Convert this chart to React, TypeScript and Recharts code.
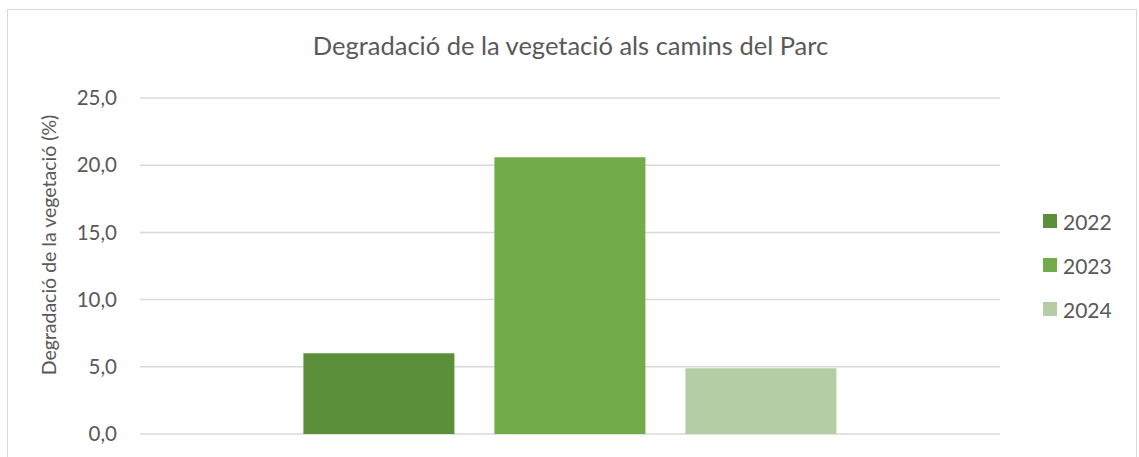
import { BarChart, Bar, XAxis, YAxis, CartesianGrid, Label } from "recharts";

const categories = ["Parc"];
const series2022 = [6.0];
const series2023 = [20.6];
const series2024 = [4.9];
const yTicks = [0, 5, 10, 15, 20, 25];

const seriesInfo = [
  { key: "2022", color: "#5b8f3a" },
  { key: "2023", color: "#72ac4a" },
  { key: "2024", color: "#b4cda5" },
];

const data = categories.map((c, i) => ({
  name: c,
  "2022": series2022[i],
  "2023": series2023[i],
  "2024": series2024[i],
}));

const font = "Lato, 'Open Sans', sans-serif";

// legend sits outside the plot like Excel's right-side legend
const LegendBox = () => (
  <div style={{ fontFamily: font, fontSize: 21, color: "#595959" }}>
    {seriesInfo.map((s) => (
      <div key={s.key} style={{ display: "flex", alignItems: "center", height: 44 }}>
        <span style={{ width: 14, height: 14, background: s.color, marginRight: 6, display: "inline-block" }} />
        <span>{s.key}</span>
      </div>
    ))}
  </div>
);

const App = () => {
  return (
    <div style={{ position: "absolute", left: 0, top: 0, width: 1139, height: 457, overflow: "hidden", background: "#fff" }}>
      <div
        style={{
          position: "absolute",
          left: 7,
          top: 9,
          width: 1128,
          height: 470,
          border: "1px solid #d9d9d9",
        }}
      />
      <div
        style={{
          position: "absolute",
          left: 0,
          top: 30,
          width: 1141,
          textAlign: "center",
          fontFamily: font,
          fontSize: 25.5,
          color: "#595959",
        }}
      >
        Degradació de la vegetació als camins del Parc
      </div>
      <div style={{ position: "absolute", left: 1043, top: 199 }}>
        <LegendBox />
      </div>
      <div style={{ position: "absolute", left: 0, top: 0 }}>
        <BarChart
          width={1139}
          height={457}
          data={data}
          margin={{ top: 98, right: 139, left: 0, bottom: 23 }}
          barCategoryGap="19%"
          barGap={40}
        >
          <CartesianGrid vertical={false} stroke="#d9d9d9" strokeWidth={1.5} />
          <XAxis dataKey="name" hide />
          <YAxis
            width={140}
            domain={[0, 25]}
            ticks={yTicks}
            axisLine={false}
            tickLine={false}
            tickSize={0}
            tickMargin={23}
            tickFormatter={(v: number) => v.toFixed(1).replace(".", ",")}
            tick={{ fill: "#595959", fontSize: 20.5, fontFamily: font }}
          >
            <Label
              value="Degradació de la vegetació (%)"
              angle={-90}
              position="insideLeft"
              dx={44}
              dy={-21}
              style={{ textAnchor: "middle", fill: "#595959", fontSize: 19.5, fontFamily: font }}
            />
          </YAxis>
          {seriesInfo.map((s) => (
            <Bar key={s.key} dataKey={s.key} fill={s.color} isAnimationActive={false} />
          ))}
        </BarChart>
      </div>
    </div>
  );
};

export default App;
